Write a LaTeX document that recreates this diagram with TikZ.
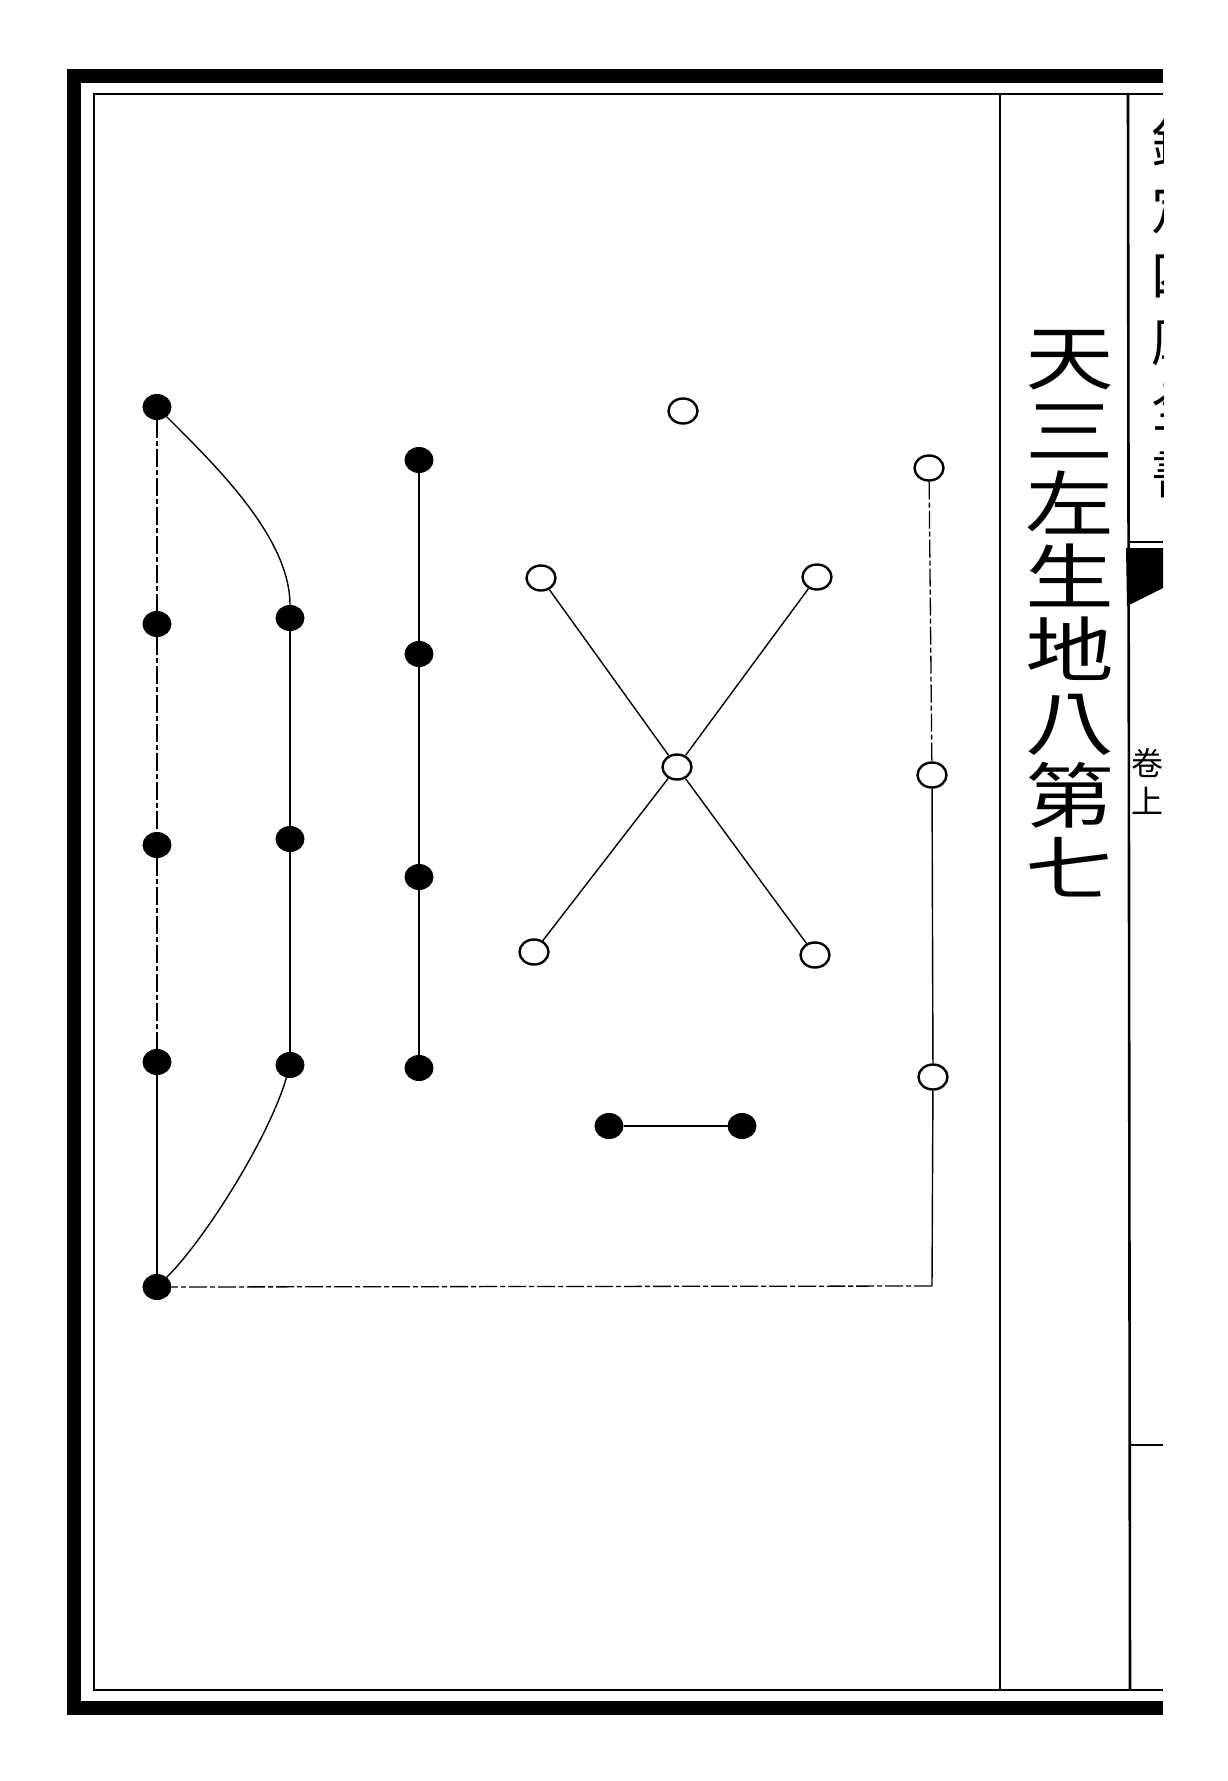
\documentclass[tikz,border=0pt]{standalone}
\usepackage{fontspec}
\newfontfamily\cjk{Noto Sans CJK TC}
\newfontfamily\cjkwide[FakeStretch=1.25]{Noto Sans CJK TC}
\usetikzlibrary{shapes.geometric}
\begin{document}
\begin{tikzpicture}[x=1pt, y=-1pt,
    yin/.style={ellipse, draw, fill=black, line width=1pt, minimum width=28pt, minimum height=25pt, inner sep=0pt},
    yang/.style={ellipse, draw, fill=white, line width=2.4pt, minimum width=29pt, minimum height=25pt, inner sep=0pt},
    link/.style={line width=1.4pt},
    broken/.style={line width=1.3pt, dash pattern=on 18pt off 3pt on 5pt off 3pt},
    rule/.style={line width=2.6pt},
    heavy/.style={line width=14pt}
]
    \useasboundingbox (0,0) rectangle (1227,1781);

    % Page frame
    \draw[heavy] (1163,76) -- (74,76) -- (74,1708) -- (1163,1708);
    \draw[rule] (1163,94) -- (94,94) -- (94,1690) -- (1163,1690);
    \draw[rule, line width=2.2pt] (1000,94) -- (1000,1690);
    \draw[rule] (1128,94) -- (1130,1690);
    \draw[rule] (1128,542) -- (1163,542);
    \draw[rule] (1130,1445) -- (1163,1445);
    \fill (1126,548) -- (1163,548) -- (1163,588) -- (1127,606) -- cycle;

    % Margin text, cut by the page edge
    \begin{scope}
        \clip (1131,96) rectangle (1163,540);
        \node[font=\cjk\fontsize{54}{66}\selectfont, align=center] (book) at (1178,308) {欽\\定\\四\\庫\\全\\書};
    \end{scope}
    \node[font=\cjk\fontsize{32}{38}\selectfont, align=center] (juan) at (1147,782) {卷\\上};

    % Title
    \node[font=\cjkwide\fontsize{71}{73}\selectfont, align=center] (title) at (1070,614) {天\\三\\左\\生\\地\\八\\第\\七};

    % Left column of black dots
    \node[yin] (a1) at (157,407) {};
    \node[yin] (a2) at (157,624) {};
    \node[yin] (a3) at (157,845) {};
    \node[yin] (a4) at (157,1062) {};
    \node[yin] (a5) at (157,1287) {};

    % Second column
    \node[yin] (b1) at (290,618) {};
    \node[yin] (b2) at (290,839) {};
    \node[yin] (b3) at (290,1065) {};

    % Third column
    \node[yin] (c1) at (419,460) {};
    \node[yin] (c2) at (419,654) {};
    \node[yin] (c3) at (419,877) {};
    \node[yin] (c4) at (419,1068) {};

    % Bottom pair
    \node[yin] (p1) at (609,1126) {};
    \node[yin] (p2) at (742,1126) {};

    % White dots: single one and the cross
    \node[yang] (w0) at (683,411) {};
    \node[yang] (xtl) at (541,578) {};
    \node[yang] (xtr) at (817,577) {};
    \node[yang] (xc) at (677,767) {};
    \node[yang] (xbl) at (534,952) {};
    \node[yang] (xbr) at (815,955) {};

    % Right column of white dots
    \node[yang] (r1) at (929,468) {};
    \node[yang] (r2) at (932,775) {};
    \node[yang] (r3) at (933,1077) {};
    \coordinate (corner) at (932,1286);

    % Connectors
    \draw[broken] (a1) -- (a2);
    \draw[broken] (a2) -- (a3);
    \draw[broken] (a3) -- (a4);
    \draw[link] (a4) -- (a5);
    \draw[link] (a1) .. controls (217,467) and (290,538) .. (b1);
    \draw[link] (b1) -- (b2);
    \draw[link] (b2) -- (b3);
    \draw[link] (b3) .. controls (270,1135) and (207,1237) .. (a5);
    \draw[link, line width=2.4pt] (c1) -- (c2) -- (c3) -- (c4);
    \draw[link] (p1) -- (p2);
    \draw[link] (xtl) -- (xc) -- (xbr);
    \draw[link] (xtr) -- (xc) -- (xbl);
    \draw[broken] (r1) -- (r2);
    \draw[link] (r2) -- (r3);
    \draw[link] (r3) -- (corner);
    \draw[broken] (corner) -- (a5);
\end{tikzpicture}
\end{document}
